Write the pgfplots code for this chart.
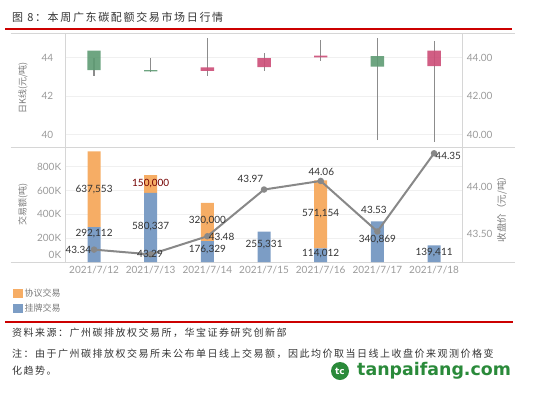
\documentclass[border=0pt]{standalone}
\usepackage{pgfplots}
\pgfplotsset{compat=1.18}
\usepackage{fontspec}
\setmainfont{Lato}
\newfontfamily\cjk{Noto Sans CJK SC}
\newfontfamily\cjksp[LetterSpace=15]{Noto Sans CJK SC}
\newfontfamily\wm{DejaVu Sans}
\definecolor{cgreen}{HTML}{5E9B73}
\definecolor{cred}{HTML}{CC4D77}
\definecolor{corange}{HTML}{F6AD65}
\definecolor{cblue}{HTML}{7C9DC5}
\definecolor{wickc}{HTML}{8C8C8C}
\definecolor{linec}{HTML}{888888}
\definecolor{framec}{HTML}{D6D6D6}
\definecolor{gridc}{HTML}{F0F0F0}
\definecolor{tickc}{HTML}{9A9A9A}
\definecolor{labc}{HTML}{333333}
\definecolor{axlab}{HTML}{7A7A7A}
\definecolor{redline}{HTML}{CC0000}
\definecolor{wmgreen}{HTML}{2A8A3A}
\pgfplotsset{
  panel/.style={scale only axis, width=396.7pt, xmin=-0.5, xmax=6.5,
    major tick length=0pt, axis line style={draw=none},
    tick label style={font=\fontsize{10}{12}\selectfont, text=tickc},
    grid style={gridc, line width=0.6pt}},
}
\begin{document}
\begin{tikzpicture}
\path[use as bounding box] (0pt,0pt) rectangle (536pt,-392pt);
% title and rules
\node[anchor=west, inner sep=0, text=labc] at (12pt,-17pt) {\cjksp\fontsize{11}{13}\selectfont 图 8：本周广东碳配额交易市场日行情};
\draw[redline, line width=1.8pt] (5pt,-29pt) -- (512pt,-29pt);
\draw[framec, line width=0.8pt] (10.5pt,-33pt) -- (515pt,-33pt);
\draw[framec, line width=0.8pt] (10.5pt,-147pt) -- (515pt,-147pt);
\draw[framec, line width=0.8pt] (10.5pt,-262pt) -- (515pt,-262pt);
\draw[framec, line width=0.8pt] (65.7pt,-33pt) -- (65.7pt,-262pt);
\draw[framec, line width=0.8pt] (462.4pt,-33pt) -- (462.4pt,-262pt);
% ---------- upper panel: wicks + right ticks ----------
\begin{axis}[panel, at={(65.7pt,-147pt)}, anchor=south west, height=114pt,
  ymin=39.35, ymax=45.27, hide x axis, axis y line*=right,
  ytick={40,42,44}, yticklabels={40.00,42.00,44.00}, ymajorgrids,
  yticklabel style={xshift=1pt}, unbounded coords=jump]
\addplot[wickc, line width=1.1pt, mark=none] coordinates {
 (0,43.05) (0,43.99) (0,nan)
 (1,43.23) (1,43.99) (1,nan)
 (2,43.05) (2,45.00) (2,nan)
 (3,43.31) (3,44.22) (3,nan)
 (4,43.83) (4,44.91) (4,nan)
 (5,39.71) (5,45.00) (5,nan)
 (6,39.63) (6,44.86)};
\end{axis}
% ---------- upper panel: candle bodies + left ticks ----------
\begin{axis}[panel, at={(65.7pt,-147pt)}, anchor=south west, height=114pt,
  ymin=39.35, ymax=45.27, hide x axis, axis y line*=left,
  ytick={40,42,44}, yticklabels={40,42,44}, yticklabel style={xshift=-9pt},
  ybar stacked, bar width=13.4pt]
\addplot[draw=none, fill=none] coordinates {(0,43.34)(1,43.28)(2,43.30)(3,43.50)(4,44.01)(5,43.53)(6,43.55)};
\addplot[draw=none, fill=cgreen, fill opacity=0.9] coordinates {(0,1.01)(1,0.06)(2,0)(3,0)(4,0)(5,0.54)(6,0)};
\addplot[draw=none, fill=cred, fill opacity=0.9] coordinates {(0,0)(1,0)(2,0.18)(3,0.47)(4,0.08)(5,0)(6,0.80)};
\end{axis}
% ---------- lower panel: stacked bars ----------
\begin{axis}[panel, at={(65.7pt,-262pt)}, anchor=south west, height=115pt,
  ymin=0, ymax=966000, axis y line*=left, axis x line*=bottom,
  ybar stacked, bar width=13pt, scaled y ticks=false,
  ytick={200000,400000,600000,800000}, yticklabels={200K,400K,600K,800K},
  extra y ticks={0}, extra y tick labels={0K},
  extra y tick style={grid=none, yticklabel style={yshift=7pt}},
  ymajorgrids, xtick={0,...,6},
  xticklabels={2021/7/12,2021/7/13,2021/7/14,2021/7/15,2021/7/16,2021/7/17,2021/7/18},
  xticklabel style={yshift=-1pt}, yticklabel style={xshift=-1pt},
  reverse legend,
  legend style={at={(-0.1328,-0.22)}, anchor=north west, draw=none, fill=none,
    font=\cjk\fontsize{9}{11}\selectfont, text=axlab, row sep=2.5pt, inner sep=0pt,
    nodes={inner sep=1.5pt}},
  legend cell align=left,
  legend image code/.code={\fill[#1] (0pt,-4.5pt) rectangle (10pt,4.5pt);}]
\addplot[draw=none, fill=cblue] coordinates {(0,292112)(1,580337)(2,176329)(3,255331)(4,114012)(5,340869)(6,139411)};
\addlegendentry{挂牌交易}
\addplot[draw=none, fill=corange] coordinates {(0,637553)(1,150000)(2,320000)(3,0)(4,571154)(5,0)(6,0)};
\addlegendentry{协议交易}
\end{axis}
% ---------- lower panel: closing price line ----------
\begin{axis}[panel, at={(65.7pt,-262pt)}, anchor=south west, height=115pt,
  ymin=43.21, ymax=44.416, axis y line*=right, axis x line=none,
  ytick={43.5,44}, yticklabels={43.50,44.00}, yticklabel style={xshift=1pt}]
\addplot[linec, line width=2pt, mark=*, mark size=2.2pt, mark options={fill=linec, draw=linec}]
 coordinates {(0,43.34)(1,43.29)(2,43.48)(3,43.97)(4,44.06)(5,43.53)(6,44.35)};
\addplot[draw=none, mark=none, nodes near coords, point meta=explicit symbolic,
  every node near coord/.append style={anchor=center, font=\fontsize{10}{12}\selectfont, text=labc, inner sep=0pt}]
 coordinates {(-0.277,43.336)[43.34] (0.988,43.295)[43.29] (2.25,43.47)[43.48] (2.76,44.078)[43.97]
   (4.01,44.157)[44.06] (4.94,43.756)[43.53] (6.25,44.32)[44.35]};
\end{axis}
% ---------- lower panel: bar labels ----------
\begin{axis}[panel, at={(65.7pt,-262pt)}, anchor=south west, height=115pt,
  ymin=0, ymax=966000, hide axis]
\addplot[draw=none, mark=none, nodes near coords, point meta=explicit symbolic,
  every node near coord/.append style={anchor=center, font=\fontsize{10}{12}\selectfont, text=labc, inner sep=0pt}]
 coordinates {(0,241170)[292,112] (0,605000)[637,553] (1,296600)[580,337]
   (2,100800)[176,329] (2,344500)[320,000] (3,142850)[255,331]
   (4,403300)[571,154] (4,73100)[114,012] (5,184900)[340,869] (6,81500)[139,411]};
\addplot[draw=none, mark=none, nodes near coords, point meta=explicit symbolic,
  every node near coord/.append style={anchor=center, font=\fontsize{10}{12}\selectfont, text=red!45!black, inner sep=0pt}]
 coordinates {(1,655400)[150,000]};
\end{axis}
% axis titles
\node[rotate=90, text=axlab, font=\cjk\fontsize{9}{11}\selectfont] at (23pt,-88pt) {日K线(元/吨)};
\node[rotate=90, text=axlab, font=\cjk\fontsize{9}{11}\selectfont] at (23pt,-204pt) {交易额(吨)};
\node[rotate=90, text=axlab, font=\cjk\fontsize{9.5}{11}\selectfont] at (502pt,-207pt) {收盘价（元/吨）};
% source notes
\draw[redline, line width=1.8pt] (5pt,-321.7pt) -- (513pt,-321.7pt);
\node[anchor=west, inner sep=0, text=labc] at (12pt,-332.7pt) {\cjksp\fontsize{10}{12}\selectfont 资料来源：广州碳排放权交易所，华宝证券研究创新部};
\node[anchor=west, inner sep=0, text=labc] at (12pt,-353.3pt) {\cjksp\fontsize{10}{12}\selectfont 注：由于广州碳排放权交易所未公布单日线上交易额，因此均价取当日线上收盘价来观测价格变};
\node[anchor=west, inner sep=0, text=labc] at (12pt,-370.5pt) {\cjksp\fontsize{10}{12}\selectfont 化趋势。};
% watermark
\fill[wmgreen] (340pt,-371pt) circle (9pt);
\node[text=white, font=\wm\bfseries\fontsize{9}{9}\selectfont] at (340pt,-371pt) {tc};
\node[anchor=west, inner sep=0, text=wmgreen, font=\wm\bfseries\fontsize{17.4}{18}\selectfont] at (357pt,-371pt) {tanpaifang.com};
\end{tikzpicture}
\end{document}
